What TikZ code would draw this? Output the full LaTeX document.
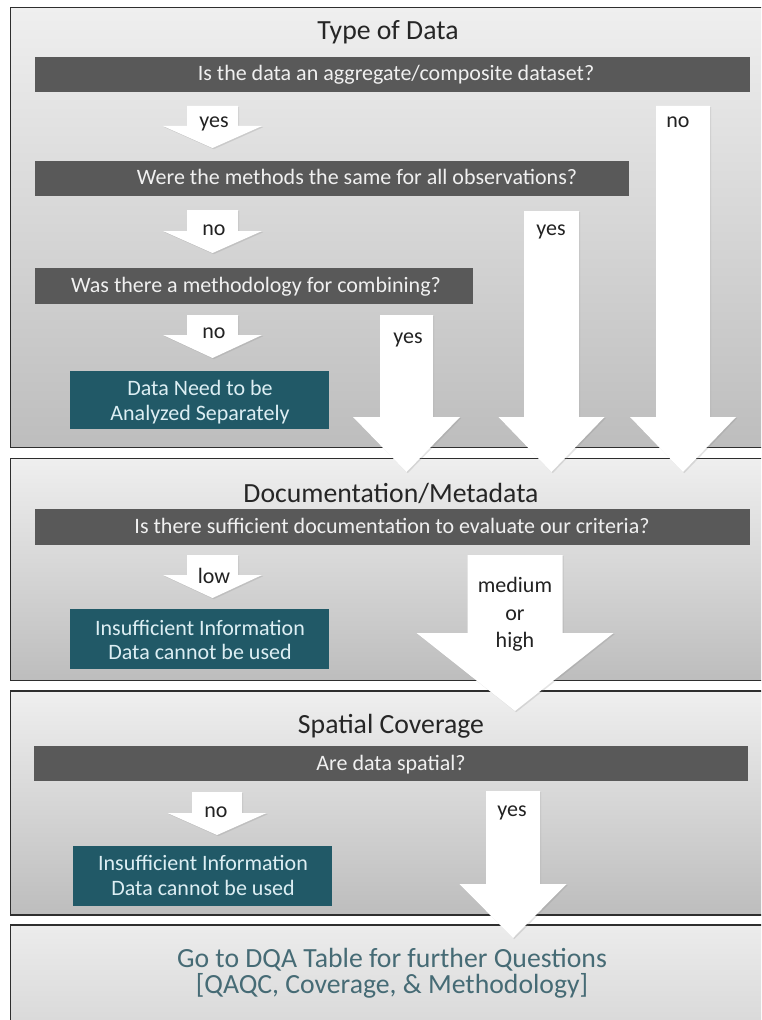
\documentclass[tikz,border=0pt]{standalone}
\usepackage{fontspec}
\setmainfont{Carlito}
\usetikzlibrary{shadows}
\definecolor{bardark}{HTML}{595959}
\definecolor{tealbox}{HTML}{215967}
\definecolor{tealtext}{HTML}{DCEEF3}
\definecolor{bartext}{HTML}{F0F0F0}
\definecolor{finaltext}{HTML}{466B75}
\definecolor{panelborder}{HTML}{2E2E2E}
\definecolor{paneltop}{HTML}{EFEFEF}
\definecolor{panelbot}{HTML}{BDBDBD}
\definecolor{lasttop}{HTML}{ECECEC}
\definecolor{lastbot}{HTML}{D6D6D6}
\definecolor{labeltext}{HTML}{222222}
% cx, half shaft, half head, top, head start, tip
\newcommand\blockarrow[6]{%
  \fill[blockarrowstyle] ({#1-#2},#4) -- ({#1+#2},#4) -- ({#1+#2},#5) -- ({#1+#3},#5)
    -- (#1,#6) -- ({#1-#3},#5) -- ({#1-#2},#5) -- cycle;}
\begin{document}
\begin{tikzpicture}[x=0.75pt,y=-0.75pt,
  panel/.style={draw=panelborder, line width=1.1pt, top color=paneltop, bottom color=panelbot},
  lastpanel/.style={draw=panelborder, line width=1.1pt, top color=lasttop, bottom color=lastbot},
  qbar/.style={fill=bardark, draw=none, inner sep=0pt, anchor=north west},
  tbox/.style={fill=tealbox, draw=none, inner sep=0pt, anchor=north west},
  qtext/.style={text=bartext, font=\fontsize{16.5}{19}\selectfont, anchor=base, inner sep=0pt},
  ttext/.style={text=tealtext, font=\fontsize{16.5}{19}\selectfont, anchor=base, inner sep=0pt},
  title/.style={text=black!85, font=\fontsize{20.8}{24}\selectfont, anchor=base, inner sep=0pt},
  finalstyle/.style={text=finaltext, font=\fontsize{20.8}{24}\selectfont, anchor=base, inner sep=0pt},
  alabel/.style={text=labeltext, font=\fontsize{16.5}{19}\selectfont, anchor=base, inner sep=0pt},
  blockarrowstyle/.style={fill=white, drop shadow={shadow xshift=0.9pt, shadow yshift=-0.9pt, opacity=0.22}},
]
\useasboundingbox (0,0) rectangle (761,1020);
\clip (0,0) rectangle (761,1020);

% panels
\path[panel] (10.5,7.5) rectangle (780,447.5);
\path[panel] (10.5,458.5) rectangle (780,680.5);
\path[panel] (10.5,691) rectangle (780,915);
\path[lastpanel] (10.5,925) rectangle (780,1040);

% titles
\node[title] (t1) at (388,40) {Type of Data};
\node[title] (t2) at (391,502) {Documentation/Metadata};
\node[title] (t3) at (391,733) {Spatial Coverage};

% question bars
\node[qbar, minimum width={715*0.75pt}, minimum height={35*0.75pt}] (b1) at (35,57) {};
\node[qtext] (q1) at (396,81) {Is the data an aggregate/composite dataset?};
\node[qbar, minimum width={594*0.75pt}, minimum height={35*0.75pt}] (b2) at (35,161) {};
\node[qtext] (q2) at (357,185) {Were the methods the same for all observations?};
\node[qbar, minimum width={438*0.75pt}, minimum height={36*0.75pt}] (b3) at (35,268) {};
\node[qtext] (q3) at (256,292.5) {Was there a methodology for combining?};
\node[qbar, minimum width={715*0.75pt}, minimum height={36*0.75pt}] (b4) at (35,509) {};
\node[qtext] (q4) at (392,533) {Is there sufficient documentation to evaluate our criteria?};
\node[qbar, minimum width={714*0.75pt}, minimum height={35*0.75pt}] (b5) at (34,746) {};
\node[qtext] (q5) at (391,770) {Are data spatial?};

% teal result boxes
\node[tbox, minimum width={259*0.75pt}, minimum height={58*0.75pt}] (r1) at (70,371) {};
\node[ttext] (r1a) at (200,395) {Data Need to be};
\node[ttext] (r1b) at (200,420) {Analyzed Separately};
\node[tbox, minimum width={259*0.75pt}, minimum height={60*0.75pt}] (r2) at (70,609) {};
\node[ttext] (r2a) at (200,635) {Insufficient Information};
\node[ttext] (r2b) at (200,659) {Data cannot be used};
\node[tbox, minimum width={259*0.75pt}, minimum height={60*0.75pt}] (r3) at (73,846) {};
\node[ttext] (r3a) at (203,870) {Insufficient Information};
\node[ttext] (r3b) at (203,895) {Data cannot be used};

% final text
\node[finalstyle] (f1) at (392,967) {Go to DQA Table for further Questions};
\node[finalstyle] (f2) at (392,993) {[QAQC, Coverage, \& Methodology]};

% block arrows
\blockarrow{212.5}{25.5}{49.5}{106}{126}{148}
\blockarrow{683}{27}{53}{106}{417}{472}
\blockarrow{212.5}{25.5}{49.5}{210}{231}{253}
\blockarrow{551.5}{27.5}{53}{211}{417}{472}
\blockarrow{212.5}{25.5}{49.5}{315}{335}{358}
\blockarrow{406.5}{26.5}{53.5}{315}{417}{472}
\blockarrow{212.5}{25.5}{49.5}{555}{575}{598}
\blockarrow{515}{47.5}{98.5}{555}{633}{711}
\blockarrow{217}{25}{49.5}{792}{813}{835}
\blockarrow{513}{27}{53.5}{791}{884}{938}

% arrow labels
\node[alabel] (l1) at (214,128) {yes};
\node[alabel] (l2) at (678,128) {no};
\node[alabel] (l3) at (214,235) {no};
\node[alabel] (l4) at (551,235) {yes};
\node[alabel] (l5) at (214,338) {no};
\node[alabel] (l6) at (408,343) {yes};
\node[alabel] (l7) at (214,583) {low};
\node[alabel] (l8a) at (515,592) {medium};
\node[alabel] (l8b) at (515,620) {or};
\node[alabel] (l8c) at (515,647) {high};
\node[alabel] (l9) at (216,817) {no};
\node[alabel] (l10) at (512,816) {yes};
\end{tikzpicture}
\end{document}
